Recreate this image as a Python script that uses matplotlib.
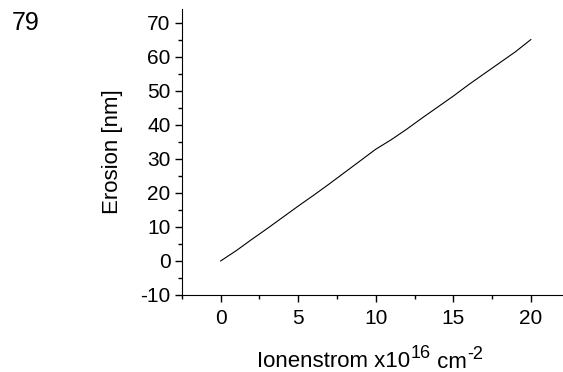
import numpy as np
import matplotlib
matplotlib.use('Agg')
import matplotlib.pyplot as plt
from matplotlib.ticker import MultipleLocator

plt.rcParams['font.family'] = 'Liberation Sans'
plt.rcParams['axes.unicode_minus'] = False

# Ionenstrom (x10^16 cm^-2) and Erosion (nm)
ionenstrom = [0, 1, 2, 3, 4, 5, 6, 7, 8, 9, 10, 11, 12, 13, 14, 15, 16, 17, 18, 19, 20]
erosion = [0, 3.0, 6.3, 9.5, 12.8, 16.1, 19.3, 22.6, 26.0, 29.4, 32.8,
           35.6, 38.7, 42.0, 45.2, 48.4, 51.8, 55.0, 58.2, 61.4, 65.0]
xticks = [0, 5, 10, 15, 20]
yticks = [-10, 0, 10, 20, 30, 40, 50, 60, 70]

fig = plt.figure()
fig.set_size_inches(5.63, 3.72)
ax = fig.add_axes([0.323, 0.207, 0.675, 0.769])

ax.plot(ionenstrom, erosion, color='black', linewidth=0.8)

ax.set_xlim(-2.5, 22)
ax.set_ylim(-10, 74)
ax.set_xticks(xticks)
ax.set_yticks(yticks)
ax.xaxis.set_minor_locator(MultipleLocator(2.5))
ax.yaxis.set_minor_locator(MultipleLocator(5))
ax.tick_params(which='major', direction='out', length=5, width=1, labelsize=15)
ax.tick_params(which='minor', direction='out', length=3, width=1)
ax.tick_params(axis='x', which='major', pad=5)
ax.tick_params(axis='y', which='major', pad=3)

ax.spines['top'].set_visible(False)
ax.spines['right'].set_visible(False)

fontsize = 16
ax.set_ylabel('Erosion [nm]', fontsize=fontsize)
ax.yaxis.set_label_coords(-0.155, 0.5)

# x label built from pieces so the superscripts keep the plain font
t1 = fig.text(257 / 563, 1 - 367 / 372, 'Ionenstrom x10', fontsize=fontsize, va='baseline')
t2 = ax.annotate('16', xy=(1, 0), xycoords=t1, xytext=(1, 13.5), textcoords='offset pixels',
                 fontsize=13, va='baseline')
t3 = ax.annotate(' cm', xy=(1, 0), xycoords=t2, xytext=(0, -5.2), textcoords='offset pixels',
                 fontsize=fontsize, va='baseline')
t4 = ax.annotate('-2', xy=(1, 0), xycoords=t3, xytext=(0, 13.5), textcoords='offset pixels',
                 fontsize=13, va='baseline')

fig.text(0.021, 0.92, '79', fontsize=18)

plt.savefig('out.png', dpi=100)
plt.close()
